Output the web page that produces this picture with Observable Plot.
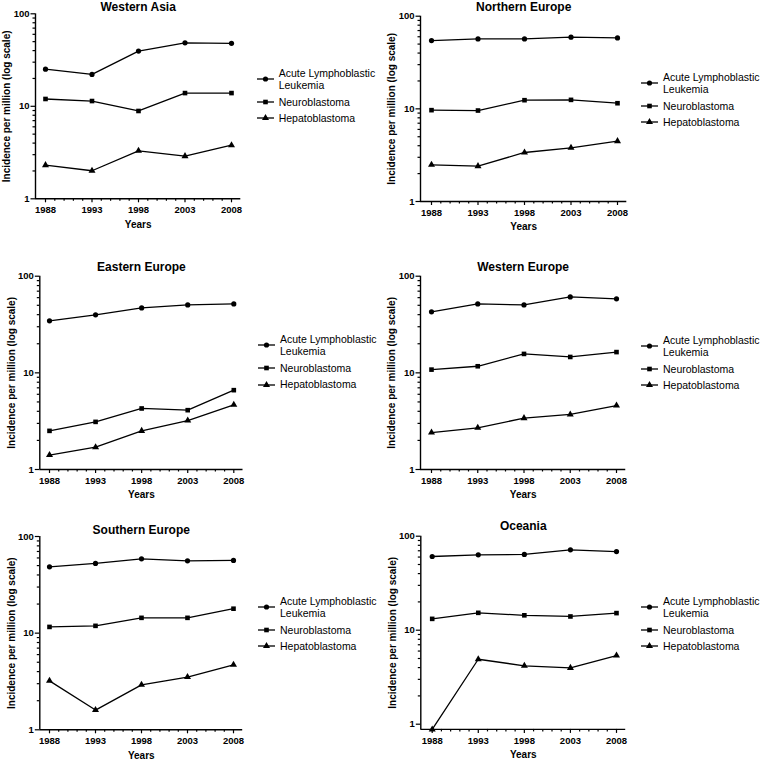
<!DOCTYPE html>
<html>
<head>
<meta charset="utf-8">
<script src="https://cdn.jsdelivr.net/npm/d3@7"></script>
<script src="https://cdn.jsdelivr.net/npm/@observablehq/plot@0.6"></script>
<style>
  html, body { margin: 0; padding: 0; background: #fff; }
  #root { position: relative; width: 760px; height: 761px; overflow: hidden; background: #fff;
          font-family: "Liberation Sans", Arial, sans-serif; color: #000; }
  .panel { position: absolute; }
  .legend { position: absolute; font-size: 10.5px; line-height: 12.4px; color: #000; }
  .item { display: flex; align-items: center; margin-bottom: 4.2px; }
  .item svg { flex: none; margin-right: 5px; overflow: visible; }
  .lbl { width: 104px; }
</style>
</head>
<body>
<div id="root"></div>
<script>
// ---------- data ----------
const years = [1988, 1993, 1998, 2003, 2008];
const regions = ["Western Asia", "Northern Europe", "Eastern Europe", "Western Europe", "Southern Europe", "Oceania"];
const seriesNames = ["Acute Lymphoblastic Leukemia", "Neuroblastoma", "Hepatoblastoma"];
const yTickLabels = [1, 10, 100];
const yMinorTicks = [2, 3, 4, 5, 6, 7, 8, 9, 20, 30, 40, 50, 60, 70, 80, 90];
const yearMinorTicks = [1989, 1990, 1991, 1992, 1994, 1995, 1996, 1997, 1999, 2000, 2001, 2002, 2004, 2005, 2006, 2007];
const yLabel = "Incidence per million (log scale)";
const xLabel = "Years";

// values per region (same order as regions), per year
const acuteLymphoblasticLeukemia = [
  [25.2, 22.1, 39.5, 48.6, 48.0],
  [54.6, 56.9, 56.9, 59.4, 58.3],
  [34.5, 39.8, 47.0, 50.5, 51.7],
  [42.8, 51.7, 50.5, 61.1, 58.3],
  [48.6, 52.6, 58.7, 56.0, 56.5],
  [60.8, 63.3, 64.0, 71.6, 68.7]
];
const neuroblastoma = [
  [12.0, 11.4, 8.9, 13.9, 13.9],
  [9.68, 9.59, 12.4, 12.5, 11.5],
  [2.51, 3.11, 4.28, 4.11, 6.62],
  [10.8, 11.7, 15.7, 14.6, 16.4],
  [11.6, 11.9, 14.4, 14.4, 17.9],
  [13.2, 15.3, 14.4, 14.0, 15.2]
];
const hepatoblastoma = [
  [2.31, 2.01, 3.30, 2.89, 3.80],
  [2.49, 2.41, 3.38, 3.80, 4.48],
  [1.41, 1.70, 2.51, 3.21, 4.67],
  [2.41, 2.70, 3.40, 3.71, 4.59],
  [3.21, 1.60, 2.92, 3.51, 4.70],
  [0.88, 4.91, 4.18, 3.97, 5.37]
];

// ---------- layout (pixel geometry of each panel) ----------
const layout = [
  {col: 0,   row: 0,   h: 250, axisX: 35,    x1988: 45,    x2008: 231,   y100: 13.3,  y1: 198.3, titleY: 6.7,   legX: 256.7, legY: 79},
  {col: 380, row: 0,   h: 250, axisX: 420,   x1988: 431,   x2008: 617,   y100: 15.7,  y1: 201,   titleY: 6.7,   legX: 641,   legY: 83},
  {col: 0,   row: 250, h: 250, axisX: 39.3,  x1988: 49,    x2008: 233.3, y100: 275.7, y1: 469,   titleY: 266.7, legX: 258,   legY: 345.3},
  {col: 380, row: 250, h: 250, axisX: 420,   x1988: 431,   x2008: 616,   y100: 275.7, y1: 469,   titleY: 266.7, legX: 641,   legY: 346},
  {col: 0,   row: 500, h: 261, axisX: 39.3,  x1988: 49,    x2008: 233,   y100: 536,   y1: 729.3, titleY: 530,   legX: 258,   legY: 607},
  {col: 380, row: 500, h: 261, axisX: 420.3, x1988: 431.7, x2008: 616,   y100: 535.7, y1: 723.7, titleY: 526,   legX: 641,   legY: 607}
];

const symbols = ["circle", "square", "triangle"];
const d3symbols = [d3.symbolCircle, d3.symbolSquare, d3.symbolTriangle];
const FONT = "'Liberation Sans', Arial, sans-serif";
const root = document.getElementById("root");

regions.forEach((region, i) => {
  const L = layout[i];
  const rows = [];
  [acuteLymphoblasticLeukemia, neuroblastoma, hepatoblastoma].forEach((arr, s) => {
    years.forEach((yr, j) => rows.push({series: seriesNames[s], year: yr, value: arr[i][j]}));
  });
  const yMin = Math.min(1, d3.min(rows, d => d.value));
  const k = (L.x2008 - L.x1988) / 20;
  const xStart = 1988 - (L.x1988 - L.axisX) / k;
  const xEnd = 2009;
  const W = 380;
  const marginLeft = L.axisX - L.col;
  const marginRight = W - (L.x2008 + k - L.col);
  const perDecade = (L.y1 - L.y100) / 2;
  const yBottomPx = L.y1 - Math.log10(yMin) * perDecade;
  const marginTop = L.y100 - L.row;
  const marginBottom = L.h - (yBottomPx - L.row);

  const chart = Plot.plot({
    width: W,
    height: L.h,
    marginLeft, marginRight, marginTop, marginBottom,
    style: {fontFamily: FONT, fontSize: "10px", color: "#000", background: "transparent", overflow: "visible"},
    x: {domain: [xStart, xEnd], label: null},
    y: {type: "log", domain: [yMin, 100], label: null},
    symbol: {domain: seriesNames, range: symbols},
    marks: [
      Plot.axisY({ticks: yMinorTicks, tickSize: 2.5, tickFormat: () => "", label: null, strokeWidth: 1.2}),
      Plot.axisY({ticks: yTickLabels, tickSize: 4.5, tickPadding: 1.5, tickFormat: d => String(d), label: null,
                  fontSize: 9.5, fontWeight: "bold", strokeWidth: 1.2}),
      Plot.axisX({ticks: yearMinorTicks, tickSize: 2.5, tickFormat: () => "", label: null, strokeWidth: 1.2}),
      Plot.axisX({ticks: years, tickSize: 4, tickPadding: 3.5, tickFormat: d => String(d), label: null,
                  fontSize: 9.5, fontWeight: "bold", strokeWidth: 1.2}),
      Plot.ruleY([yMin], {stroke: "#000", strokeWidth: 1.4}),
      Plot.ruleX([xStart], {stroke: "#000", strokeWidth: 1.4}),
      Plot.line(rows, {x: "year", y: "value", z: "series", stroke: "#000", strokeWidth: 1.3}),
      Plot.dot(rows, {x: "year", y: "value", symbol: "series", fill: "#000", stroke: "none", r: 2.6}),
      Plot.text([region], {frameAnchor: "top", dy: L.titleY - L.y100, fontSize: 12, fontWeight: "bold",
                           textAnchor: "middle", lineAnchor: "middle"}),
      Plot.text([yLabel], {frameAnchor: "left", dx: -28.5, rotate: -90, fontSize: 10, fontWeight: "bold",
                           textAnchor: "middle", lineAnchor: "middle"}),
      Plot.text([xLabel], {frameAnchor: "bottom", dy: 25.5, fontSize: 10, fontWeight: "bold",
                           textAnchor: "middle", lineAnchor: "middle"})
    ]
  });
  const wrap = document.createElement("div");
  wrap.className = "panel";
  wrap.style.left = L.col + "px";
  wrap.style.top = L.row + "px";
  wrap.appendChild(chart);
  root.appendChild(wrap);

  // legend
  const leg = document.createElement("div");
  leg.className = "legend";
  leg.style.left = L.legX + "px";
  leg.style.top = (L.legY - 12.4) + "px";
  seriesNames.forEach((name, s) => {
    const item = document.createElement("div");
    item.className = "item";
    const path = d3.symbol(d3symbols[s], Math.PI * 2.6 * 2.6)();
    item.innerHTML =
      `<svg width="17" height="8" viewBox="0 0 17 8">` +
      `<line x1="0" x2="17" y1="4" y2="4" stroke="#000" stroke-width="1.3"></line>` +
      `<path d="${path}" transform="translate(8.5,4)" fill="#000"></path></svg>` +
      `<div class="lbl">${name}</div>`;
    leg.appendChild(item);
  });
  root.appendChild(leg);
});
</script>
</body>
</html>
